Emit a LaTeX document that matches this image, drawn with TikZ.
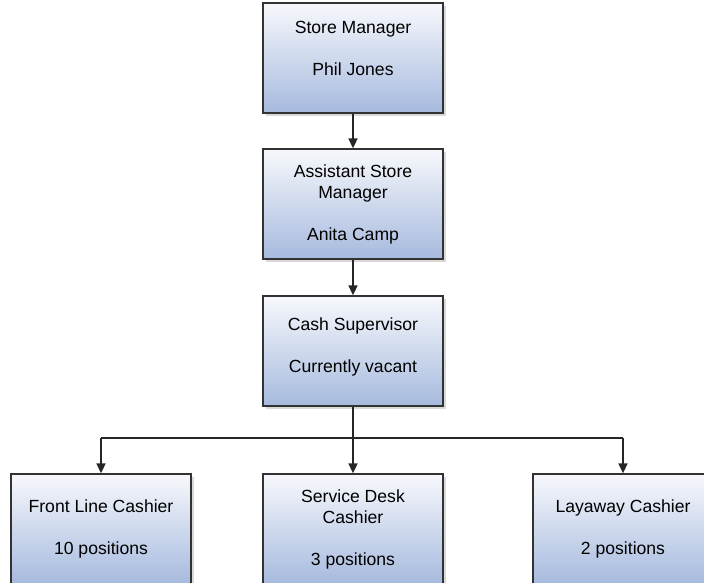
\documentclass[tikz,border=0pt]{standalone}
\usepackage{fontspec}
\setmainfont{Liberation Sans}
\usetikzlibrary{arrows.meta,shadows,positioning}
\definecolor{boxtop}{RGB}{247,248,252}
\definecolor{boxbot}{RGB}{166,186,222}
\definecolor{boxline}{RGB}{50,50,50}
\begin{document}
\begin{tikzpicture}[x=1pt,y=-1pt,>={Triangle[length=10pt,width=9pt]},font=\fontsize{17.6}{21}\selectfont]
\tikzset{post/.style={draw=boxline,line width=1.3pt,top color=boxtop,bottom color=boxbot,
		minimum width=180pt,minimum height=110pt,align=center,inner sep=0pt,
		drop shadow={shadow xshift=3pt,shadow yshift=-3pt,fill=black!25,opacity=0.6}},
	link/.style={->,line width=1.6pt,draw=black!85}}
\useasboundingbox (0,0) rectangle (704,583);
% chain of managers
\node[post,text depth=20pt] (sm) at (353,58) {Store Manager\\[21pt]Phil Jones};
\node[post] (asm) at (353,204) {Assistant Store\\Manager\\[21pt]Anita Camp};
\node[post,text depth=12pt] (cs) at (353,351) {Cash Supervisor\\[21pt]Currently vacant};
% cashiers
\node[post] (fl) at (101,529) {Front Line Cashier\\[21pt]10 positions};
\node[post] (sd) at (353,529) {Service Desk\\Cashier\\[21pt]3 positions};
\node[post] (lc) at (623,529) {Layaway Cashier\\[21pt]2 positions};
\draw[link] (sm) -- (asm);
\draw[link] (asm) -- (cs);
\coordinate (bus) at (353,438);
\draw[line width=1.6pt,draw=black!85] (cs.south) -- (bus) (bus -| fl) -- (bus -| lc);
\foreach \n in {fl,sd,lc}{
	\draw[link] (bus -| \n) -- (\n.north);}
\end{tikzpicture}
\end{document}
